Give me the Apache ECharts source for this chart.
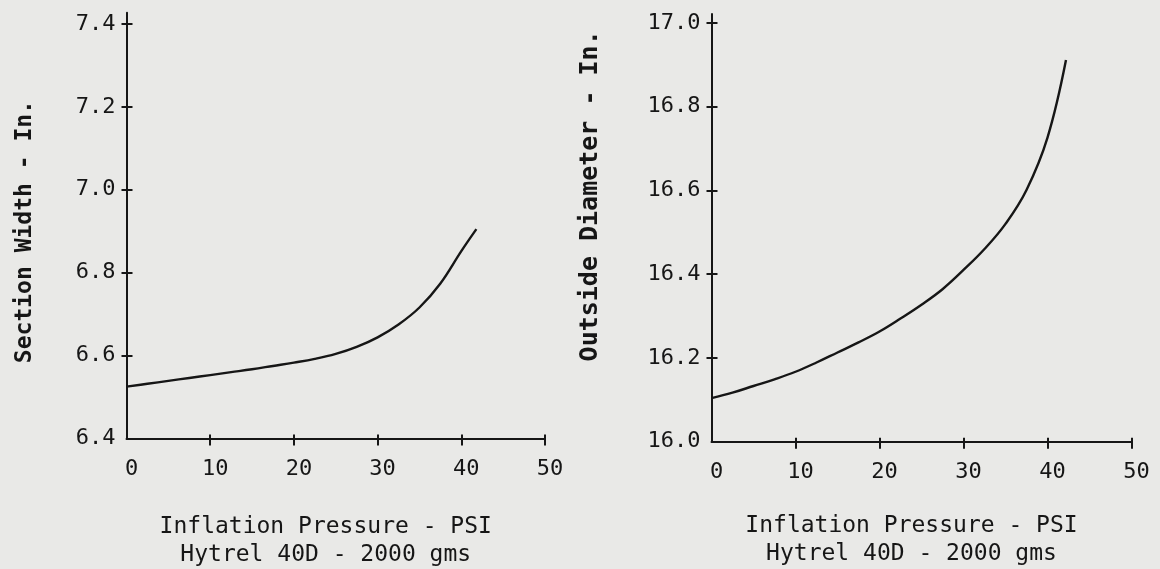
<!DOCTYPE html>
<html>
<head>
<meta charset="utf-8">
<script src="https://cdn.jsdelivr.net/npm/echarts@6/dist/echarts.min.js"></script>
<style>
  html, body { margin: 0; padding: 0; background: #e9e9e7; }
  #chart { width: 1160px; height: 569px; }
</style>
</head>
<body>
<div id="chart"></div>
<script>
// Tick labels
const pressureTicks = [0, 10, 20, 30, 40, 50];
const widthTicks = [6.4, 6.6, 6.8, 7.0, 7.2, 7.4];
const diameterTicks = [16.0, 16.2, 16.4, 16.6, 16.8, 17.0];

// Section width vs. inflation pressure
const widthPressure = [0, 2.5, 5, 7.5, 10, 12.5, 15, 17.5, 20, 22.5, 25, 27.5, 30, 32.5, 35, 37.5, 40, 41.8];
const widthValues = [6.525, 6.532, 6.539, 6.546, 6.553, 6.560, 6.567, 6.575, 6.583, 6.592, 6.604, 6.621,
                     6.644, 6.675, 6.716, 6.774, 6.852, 6.905];

// Outside diameter vs. inflation pressure
const diameterPressure = [0, 2.5, 5, 7.5, 10, 12.5, 15, 17.5, 20, 22.5, 25, 27.5, 30, 32.5, 35, 37.5, 40, 42.2];
const diameterValues = [16.104, 16.117, 16.133, 16.149, 16.167, 16.189, 16.213, 16.237, 16.263, 16.294,
                        16.327, 16.364, 16.410, 16.460, 16.520, 16.601, 16.726, 16.911];

const xTitle = 'Inflation Pressure - PSI\nHytrel 40D - 2000 gms';
const INK = '#161616';
const FONT = 'DejaVu Sans Mono';

function pairs(xs, ys) { return xs.map((x, i) => [x, ys[i]]); }

function xAxes(gridIndex, gap) {
  const base = { type: 'value', gridIndex, position: 'bottom', min: 0, max: 50, splitLine: { show: false } };
  return [
    Object.assign({}, base, {
      axisLine: { show: true, onZero: false, lineStyle: { color: INK, width: 2 } },
      axisTick: { show: true, length: 7, lineStyle: { color: INK, width: 2 }, customValues: pressureTicks.slice(1) },
      axisLabel: { show: true, customValues: pressureTicks, margin: 20, color: INK, fontFamily: FONT, fontSize: 22, padding: [0, 0, 0, 10] },
      name: xTitle, nameLocation: 'middle', nameGap: gap,
      nameTextStyle: { color: INK, fontFamily: FONT, fontSize: 23, lineHeight: 28, padding: [0, 20, 0, 0] }
    }),
    Object.assign({}, base, {
      axisLine: { show: false, onZero: false },
      axisTick: { show: true, inside: true, length: 4, lineStyle: { color: INK, width: 2 }, customValues: pressureTicks.slice(1) },
      axisLabel: { show: false }
    })
  ];
}

// shift > 0 moves the rotated title upward, < 0 downward
function yAxes(gridIndex, ticks, max, title, gap, size, shift) {
  const base = { type: 'value', gridIndex, position: 'left', min: ticks[0], max, splitLine: { show: false } };
  const pad = shift >= 0 ? [0, 0, 0, 2 * shift] : [0, -2 * shift, 0, 0];
  return [
    Object.assign({}, base, {
      axisLine: { show: true, onZero: false, lineStyle: { color: INK, width: 2 } },
      axisTick: { show: true, length: 5, lineStyle: { color: INK, width: 2 }, customValues: ticks.slice(1) },
      axisLabel: { show: true, customValues: ticks, margin: 11, color: INK, fontFamily: FONT, fontSize: 22,
                   formatter: v => v.toFixed(1) },
      name: title, nameLocation: 'middle', nameRotate: 90, nameGap: gap,
      nameTextStyle: { color: INK, fontFamily: FONT, fontSize: size, fontWeight: 'bold', padding: pad }
    }),
    Object.assign({}, base, {
      axisLine: { show: false, onZero: false },
      axisTick: { show: true, inside: true, length: 6, lineStyle: { color: INK, width: 2 }, customValues: ticks.slice(1) },
      axisLabel: { show: false }
    })
  ];
}

const curveStyle = { color: INK, width: 2.4 };

const option = {
  backgroundColor: '#e9e9e7',
  animation: false,
  grid: [
    { left: 126.5, top: 12.7, width: 418.5, height: 425.8, outerBoundsMode: 'none' },
    { left: 711.5, top: 14, width: 420, height: 427.7, outerBoundsMode: 'none' }
  ],
  xAxis: [...xAxes(0, 75), ...xAxes(1, 70)],
  yAxis: [
    ...yAxes(0, widthTicks, 7.427, 'Section Width - In.', 90, 23, -6),
    ...yAxes(1, diameterTicks, 17.021, 'Outside Diameter - In.', 109, 25, 32)
  ],
  series: [
    {
      type: 'line', xAxisIndex: 0, yAxisIndex: 0,
      data: pairs(widthPressure, widthValues),
      smooth: 0.4, showSymbol: false, symbol: 'none',
      lineStyle: curveStyle, silent: true
    },
    {
      type: 'line', xAxisIndex: 2, yAxisIndex: 2,
      data: pairs(diameterPressure, diameterValues),
      smooth: 0.4, showSymbol: false, symbol: 'none',
      lineStyle: curveStyle, silent: true
    }
  ]
};

const chart = echarts.init(document.getElementById('chart'), null, { renderer: 'canvas' });
chart.setOption(option);
</script>
</body>
</html>
